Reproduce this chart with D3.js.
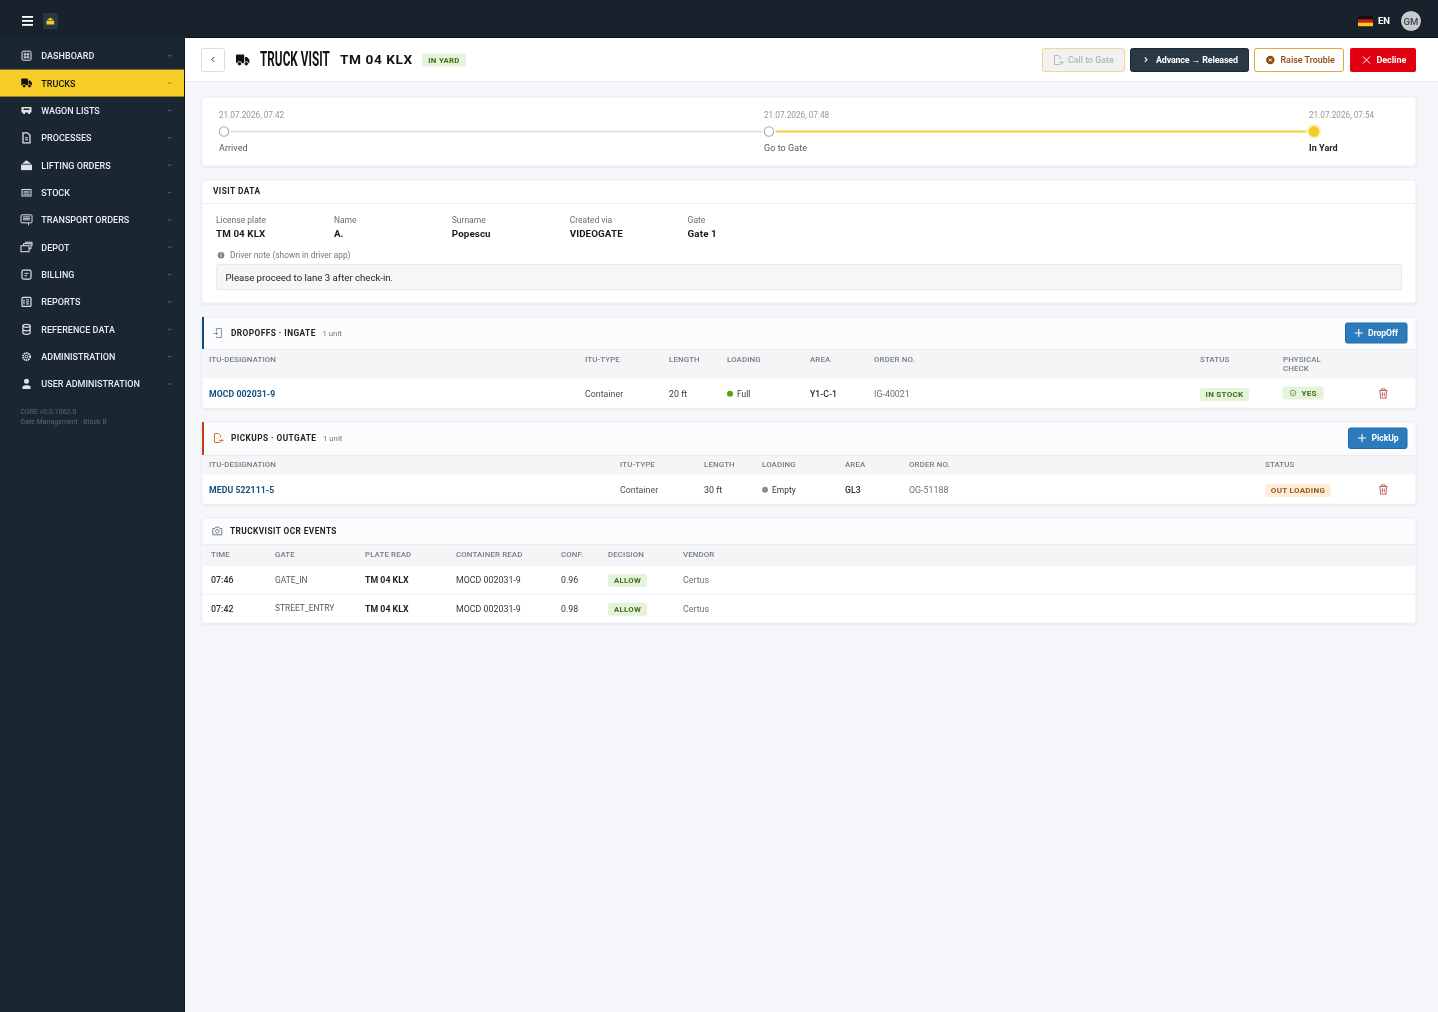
<!DOCTYPE html>
<html>
<head>
<meta charset="utf-8">
<title>Truck visit</title>
<script src="https://cdn.jsdelivr.net/npm/d3@7"></script>
<style>
html, body { margin: 0; padding: 0; background: #f4f6f9; overflow: hidden; }
svg { display: block; font-family: Roboto, sans-serif; filter: blur(0.25px); }
</style>
</head>
<body>
<div id="page"></div>
<script>
// data
const navItems = ['DASHBOARD', 'TRUCKS', 'WAGON LISTS', 'PROCESSES', 'LIFTING ORDERS', 'STOCK', 'TRANSPORT ORDERS', 'DEPOT', 'BILLING', 'REPORTS', 'REFERENCE DATA', 'ADMINISTRATION', 'USER ADMINISTRATION']
const activeNav = 'TRUCKS'
const versionLines = ['CORE v0.0.1062.0', 'Gate Management · Block B']

const stepTimes = ['21.07.2026, 07:42', '21.07.2026, 07:48', '21.07.2026, 07:54']
const stepLabels = ['Arrived', 'Go to Gate', 'In Yard']

const visitLabels = ['License plate', 'Name', 'Surname', 'Created via', 'Gate']
const visitValues = ['TM 04 KLX', 'A.', 'Popescu', 'VIDEOGATE', 'Gate 1']
const driverNote = 'Please proceed to lane 3 after check-in.'

const dropoffHeaders = ['ITU-DESIGNATION', 'ITU-TYPE', 'LENGTH', 'LOADING', 'AREA', 'ORDER NO.', 'STATUS', 'PHYSICAL|CHECK']
const dropoffRow = ['MOCD 002031-9', 'Container', '20 ft', 'Full', 'Y1-C-1', 'IG-40021', 'IN STOCK', 'YES']
const pickupHeaders = ['ITU-DESIGNATION', 'ITU-TYPE', 'LENGTH', 'LOADING', 'AREA', 'ORDER NO.', 'STATUS']
const pickupRow = ['MEDU 522111-5', 'Container', '30 ft', 'Empty', 'GL3', 'OG-51188', 'OUT LOADING']

const ocrHeaders = ['TIME', 'GATE', 'PLATE READ', 'CONTAINER READ', 'CONF.', 'DECISION', 'VENDOR']
const ocrTimes = ['07:46', '07:42']
const ocrGates = ['GATE_IN', 'STREET_ENTRY']
const ocrPlates = ['TM 04 KLX', 'TM 04 KLX']
const ocrContainers = ['MOCD 002031-9', 'MOCD 002031-9']
const ocrConf = [0.96, 0.98]
const ocrDecisions = ['ALLOW', 'ALLOW']
const ocrVendors = ['Certus', 'Certus']

const width = 1438, height = 1012
const navBg = '#1b2633', yellow = '#f5cd26'

const svg = d3.select('#page').append('svg').attr('width', width).attr('height', height)

const defs = svg.append('defs')
const shadow = defs.append('filter').attr('id', 'card').attr('x', '-2%').attr('y', '-10%').attr('width', '104%').attr('height', '125%')
shadow.append('feDropShadow').attr('dx', 0).attr('dy', 1).attr('stdDeviation', 1).attr('flood-color', '#000').attr('flood-opacity', 0.07)

// helpers
const text = (g, x, y, str, size, weight, fill, ls, anchor) => g.append('text')
	.attr('x', x).attr('y', y)
	.attr('dy', '0.35em')
	.attr('font-size', size)
	.attr('font-weight', weight || 400)
	.attr('fill', fill || '#222')
	.attr('letter-spacing', ls || 0)
	.attr('text-anchor', anchor || 'start')
	.text(str)

const box = (g, x, y, w, h, fill, r, stroke) => g.append('rect')
	.attr('x', x).attr('y', y).attr('width', w).attr('height', h)
	.attr('rx', r || 0)
	.attr('fill', fill)
	.attr('stroke', stroke || 'none')

const badge = (g, x, y, w, h, str, bg, fg, size) => {
	box(g, x, y, w, h, bg, 2)
	text(g, x + w / 2, y + h / 2, str, size || 8, 700, fg, 0.3, 'middle')
}

const card = (y, h) => {
	box(svg, 202, y, 1214, h, '#fff', 3, '#ebedf0').attr('filter', 'url(#card)')
}

// icons, drawn around their centre
const icon = {
	truck: (g, x, y, c, bg, s) => {
		const t = g.append('g').attr('transform', `translate(${x},${y}) scale(${s || 1})`).attr('fill', c)
		t.append('rect').attr('x', -5.2).attr('y', -4.5).attr('width', 6.6).attr('height', 7).attr('rx', 0.8)
		t.append('path').attr('d', 'M2-2.5h1.6l1.9,2.3v2.7h-3.5z')
		t.selectAll('circle').data([-2.4, 3]).enter().append('circle').attr('cx', d => d).attr('cy', 3).attr('r', 1.7).attr('stroke', bg).attr('stroke-width', 0.7)
	},
	grid: (g, x, y, c) => {
		const t = g.append('g').attr('transform', `translate(${x},${y})`)
		t.append('rect').attr('x', -4.5).attr('y', -4.5).attr('width', 9).attr('height', 9).attr('rx', 1).attr('fill', 'none').attr('stroke', c)
		t.append('path').attr('d', 'M-3-1.5h6M-3 1.5h6M-1.5-3v6M1.5-3v6').attr('stroke', c).attr('stroke-width', 1)
	},
	wagon: (g, x, y, c) => {
		const t = g.append('g').attr('transform', `translate(${x},${y})`)
		t.append('path').attr('d', 'M-5-3.5h10v5.5h-1.5v1.5h-2v-1.5h-3v1.5h-2v-1.5h-1.5z').attr('fill', c)
		t.append('rect').attr('x', -3).attr('y', -2).attr('width', 6).attr('height', 1.5).attr('fill', navBg)
	},
	doc: (g, x, y, c) => {
		const t = g.append('g').attr('transform', `translate(${x},${y})`)
		t.append('path').attr('d', 'M-3.5-5h4.5l2.5,2.5v7.5h-7z').attr('fill', 'none').attr('stroke', c).attr('stroke-width', 1.3)
		t.append('path').attr('d', 'M-1.5 0h3M-1.5 2h3').attr('stroke', c)
	},
	lift: (g, x, y, c, bg, s) => {
		const t = g.append('g').attr('transform', `translate(${x},${y}) scale(${s || 1})`).attr('fill', c)
		t.append('rect').attr('x', -5.5).attr('y', -0.5).attr('width', 11).attr('height', 5.5)
		t.append('path').attr('d', 'M-4.5-1.5L0-5l4.5,3.5z')
	},
	stock: (g, x, y, c) => {
		const t = g.append('g').attr('transform', `translate(${x},${y})`)
		t.append('rect').attr('x', -4.5).attr('y', -3).attr('width', 9).attr('height', 6.5).attr('fill', 'none').attr('stroke', c)
		t.append('path').attr('d', 'M-3-1.2h6M-3 0.3h6M-3 1.8h6').attr('stroke', c).attr('stroke-width', 0.8)
	},
	screen: (g, x, y, c) => {
		const t = g.append('g').attr('transform', `translate(${x},${y})`)
		t.append('rect').attr('x', -5.5).attr('y', -5).attr('width', 11).attr('height', 8).attr('rx', 1).attr('fill', 'none').attr('stroke', c)
		t.append('path').attr('d', 'M-3.5-3h7M-3.5-1.5h7M-3.5 0h7M2 3v2.5').attr('stroke', c).attr('stroke-width', 0.9)
	},
	depot: (g, x, y, c) => {
		const t = g.append('g').attr('transform', `translate(${x},${y})`).attr('fill', 'none').attr('stroke', c)
		t.append('rect').attr('x', -5.5).attr('y', -1.5).attr('width', 8).attr('height', 6)
		t.append('path').attr('d', 'M-3-1.5v-2h7.5v5h-2M-1-3.5v-1.5h6.5v4')
	},
	bill: (g, x, y, c) => {
		const t = g.append('g').attr('transform', `translate(${x},${y})`)
		t.append('rect').attr('x', -4.5).attr('y', -4.5).attr('width', 9).attr('height', 9).attr('rx', 1.5).attr('fill', 'none').attr('stroke', c).attr('stroke-width', 1.2)
		t.append('path').attr('d', 'M-2-1.2h4M-2 1.2h2.5').attr('stroke', c)
	},
	report: (g, x, y, c) => {
		const t = g.append('g').attr('transform', `translate(${x},${y})`)
		t.append('rect').attr('x', -4.5).attr('y', -4.5).attr('width', 9).attr('height', 9).attr('rx', 1).attr('fill', 'none').attr('stroke', c).attr('stroke-width', 1.2)
		t.append('path').attr('d', 'M-2.5-2.5v5M-0.5-2h3M-0.5 0h3M-0.5 2h3').attr('stroke', c)
	},
	db: (g, x, y, c) => {
		const t = g.append('g').attr('transform', `translate(${x},${y})`).attr('fill', 'none').attr('stroke', c).attr('stroke-width', 1.2)
		t.append('ellipse').attr('cy', -3.5).attr('rx', 3.6).attr('ry', 1.5)
		t.append('path').attr('d', 'M-3.6-3.5v7c0,2 7.2,2 7.2,0v-7M-3.6 0c0,2 7.2,2 7.2,0')
	},
	gear: (g, x, y, c) => {
		const t = g.append('g').attr('transform', `translate(${x},${y})`)
		t.append('circle').attr('r', 3.6).attr('fill', 'none').attr('stroke', c).attr('stroke-width', 1.8).attr('stroke-dasharray', '1.6 0.7')
		t.append('circle').attr('r', 1.4).attr('fill', 'none').attr('stroke', c)
	},
	user: (g, x, y, c) => {
		const t = g.append('g').attr('transform', `translate(${x},${y})`).attr('fill', c)
		t.append('circle').attr('cy', -2.8).attr('r', 2.5)
		t.append('path').attr('d', 'M-4 5v-2.2c0-2 8-2 8 0v2.2z')
	},
	file: (g, x, y, c) => {
		const t = g.append('g').attr('transform', `translate(${x},${y})`).attr('fill', 'none').attr('stroke', c).attr('stroke-width', 1)
		t.append('path').attr('d', 'M2.5 4.5h-6v-9h4l2,2v2M1 2.5h4M3.5 1l1.5,1.5l-1.5,1.5')
	},
	ingate: (g, x, y, c) => {
		const t = g.append('g').attr('transform', `translate(${x},${y})`).attr('fill', 'none').attr('stroke', c).attr('stroke-width', 0.9)
		t.append('path').attr('d', 'M-1.5-1.5v-3h5v9h-5v-1M-4.5 0.5h4M-2 -1l1.5,1.5l-1.5,1.5')
	},
	camera: (g, x, y, c) => {
		const t = g.append('g').attr('transform', `translate(${x},${y})`).attr('fill', 'none').attr('stroke', c).attr('stroke-width', 0.9)
		t.append('path').attr('d', 'M-4.5-2.5h2l1-1.3h3l1,1.3h2v6.3h-9z')
		t.append('circle').attr('cy', 0.3).attr('r', 1.8)
	},
	trash: (g, x, y, c) => {
		const t = g.append('g').attr('transform', `translate(${x},${y}) scale(1.1)`).attr('fill', 'none').attr('stroke', c).attr('stroke-width', 0.9)
		t.append('path').attr('d', 'M-3.8-2.8h7.6M-1.5-2.8v-1.4h3v1.4M-3-2.8l0.5,7h5l0.5-7M-0.9-1v3.5M0.9-1v3.5')
	}
}

const navIcons = ['grid', 'truck', 'wagon', 'doc', 'lift', 'stock', 'screen', 'depot', 'bill', 'report', 'db', 'gear', 'user']

// chrome
box(svg, 0, 0, width, height, '#f4f6f9')
box(svg, 0, 0, width, 38, '#18222d')
box(svg, 0, 38, 184, height - 38, navBg)
box(svg, 184, 38, 1, height - 38, '#111923')
box(svg, 184, 37, width - 184, 1, '#0e151c')
box(svg, 185, 38, width - 185, 43, '#fff')
box(svg, 185, 81, width - 185, 1, '#ebedf0')

// burger
svg.selectAll('.burger').data([17, 21, 25]).enter().append('rect')
	.attr('class', 'burger').attr('x', 22).attr('y', d => d - 1).attr('width', 11).attr('height', 1.8).attr('fill', '#fff')
box(svg, 43, 13, 15, 16, '#283644', 1)
icon.lift(svg, 50.3, 21, yellow, null, 0.7)

// language + avatar
const flagY = d3.scaleBand().domain(['#111', '#d8141a', '#f6ce19']).range([16, 26])
flagY.domain().forEach(c => box(svg, 1358, flagY(c), 15, flagY.bandwidth() + 0.2, c))
text(svg, 1378, 21, 'EN', 9.5, 700, '#fff')
svg.append('circle').attr('cx', 1411).attr('cy', 21).attr('r', 10.5).attr('fill', '#c6cacd').attr('stroke', '#10171e')
text(svg, 1411, 21.3, 'GM', 9.5, 500, '#3c444c', 0, 'middle')

// sidebar
const navY = d3.scalePoint().domain(navItems).range([55.7, 384])
const nav = svg.append('g')
nav.selectAll('g').data(navItems).enter().append('g').each(function (d, i) {
	const g = d3.select(this), y = navY(d), on = d === activeNav
	if (on) box(g, 0, y - 13.5, 184, 27, yellow)
	icon[navIcons[i]](g, 26.5, y, on ? '#111' : '#dfe3e8', on ? yellow : navBg)
	text(g, 41.3, y + 0.3, d, 9, 500, on ? '#111' : '#e8ebef', 0.02)
	g.append('path').attr('d', `M168 ${y - 0.5}l1.7 1l1.7-1`).attr('fill', 'none').attr('stroke', on ? '#8a7420' : '#66727e').attr('stroke-width', 0.9)
})
versionLines.forEach((d, i) => text(svg, 20.5, 411.5 + i * 10.5, d, 6.8, 400, '#5b6875', 0.1))

// header bar
box(svg, 201.5, 48.5, 23, 23, '#fff', 2, '#d9dce0')
svg.append('path').attr('d', 'M214.2 57l-2.4 2.4l2.4 2.4').attr('fill', 'none').attr('stroke', '#333').attr('stroke-width', 1)
icon.truck(svg, 242.5, 60, '#111', '#fff', 1.25)
text(svg, 0, 0, 'TRUCK VISIT', 19.5, 700, '#111', 0.1).attr('transform', 'translate(260,58.8) scale(0.6,1)')
text(svg, 340, 59.5, 'TM 04 KLX', 13.7, 700, '#141414', 0.55)
badge(svg, 422, 53.5, 44, 13, 'IN YARD', '#e6f3dc', '#3c6e12', 7.8)

// buttons
box(svg, 1042.5, 48.5, 82, 23, '#f1f1f1', 2, '#f0d98a')
icon.file(svg, 1058, 60, '#b8b8b8')
text(svg, 1068, 60, 'Call to Gate', 8.8, 500, '#b4b4b4', 0.02)
box(svg, 1130.5, 48.5, 118, 23, '#2b3945', 2, '#1d2833')
svg.append('path').attr('d', 'M1144.8 57.5l2.2 2.2l-2.2 2.2').attr('fill', 'none').attr('stroke', '#fff').attr('stroke-width', 1.1)
text(svg, 1156, 60, 'Advance → Released', 8.9, 700, '#fff', -0.15)
box(svg, 1254.5, 48.5, 89, 23, '#fff', 2, '#e3a93f')
svg.append('circle').attr('cx', 1270.3).attr('cy', 60).attr('r', 4.2).attr('fill', '#8c4a10')
svg.append('path').attr('d', 'M1268.8 58.5l3 3M1271.8 58.5l-3 3').attr('stroke', '#fff').attr('stroke-width', 1)
text(svg, 1280.5, 60, 'Raise Trouble', 8.9, 500, '#8c4a10', 0.02)
box(svg, 1350, 48, 66, 24, '#e0000f', 2)
svg.append('path').attr('d', 'M1363 56.5l7 7M1370 56.5l-7 7').attr('stroke', '#fff').attr('stroke-width', 1)
text(svg, 1376.5, 60, 'Decline', 9, 700, '#fff', -0.05)

// timeline
card(97, 69)
const stepX = d3.scalePoint().domain(stepLabels).range([224, 1314])
const tl = svg.append('g')
tl.append('line').attr('x1', stepX(stepLabels[0]) + 7).attr('x2', stepX(stepLabels[1]) - 7).attr('y1', 131.5).attr('y2', 131.5).attr('stroke', '#d9dcdf').attr('stroke-width', 1.3)
tl.append('line').attr('x1', stepX(stepLabels[1]) + 7).attr('x2', stepX(stepLabels[2]) - 6).attr('y1', 131.5).attr('y2', 131.5).attr('stroke', '#f3cf37').attr('stroke-width', 1.8)
stepLabels.forEach((d, i) => {
	const x = stepX(d), last = i === stepLabels.length - 1
	text(tl, x - 5, 115.5, stepTimes[i], 8.2, 400, '#92989e')
	if (last) {
		tl.append('circle').attr('cx', x).attr('cy', 131.5).attr('r', 7.5).attr('fill', '#fdf3cc')
		tl.append('circle').attr('cx', x).attr('cy', 131.5).attr('r', 5.4).attr('fill', '#f5cb25')
	} else {
		tl.append('circle').attr('cx', x).attr('cy', 131.5).attr('r', 4.7).attr('fill', '#fff').attr('stroke', '#a9afb5').attr('stroke-width', 1.1)
	}
	text(tl, x - 5, 147.8, d, 9, last ? 700 : 400, last ? '#222' : '#55595f', 0.05)
})

// visit data
card(180, 123)
box(svg, 203, 203, 1212, 1, '#eceef0')
text(svg, 213, 191.3, 'VISIT DATA', 8.3, 700, '#222', 0.45)
const visitX = d3.scalePoint().domain(visitLabels).range([216, 687.6])
visitLabels.forEach((d, i) => {
	text(svg, visitX(d), 220.3, d, 8.5, 400, '#6a6e73')
	text(svg, visitX(d), 233.3, visitValues[i], 9.8, 700, '#1b1b1b', 0.1)
})
svg.append('circle').attr('cx', 221).attr('cy', 255.3).attr('r', 3.3).attr('fill', '#7d848b')
svg.append('path').attr('d', 'M221 254.5v2.6M221 253v0.8').attr('stroke', '#fff').attr('stroke-width', 0.8)
text(svg, 230, 255.2, 'Driver note (shown in driver app)', 8.4, 400, '#74787d')
box(svg, 216.5, 264.5, 1185, 25, '#f6f6f6', 2, '#e8e9ea')
text(svg, 225.5, 277.2, driverNote, 9.6, 400, '#1e1e1e')

// tables
const headerBand = (g, y0, y1, thEnd, accent) => {
	box(g, 203, y0 + 1, 1212, y1 - y0 - 1, '#fbfcfd')
	box(g, 203, y1, 1212, 1, '#e9ebee')
	box(g, 203, y1 + 1, 1212, thEnd - y1 - 1, '#f4f5f6')
	if (accent) box(g, 202, y0, 2, y1 - y0, accent)
}

const thead = (g, scale, headers, y) => {
	headers.forEach(d => {
		d.split('|').forEach((l, j) => text(g, scale(d), y + j * 9.2, l, 7.9, 500, '#777c83', 0.12))
	})
}

const dropoffX = d3.scaleOrdinal().domain(dropoffHeaders).range([209, 585, 669, 727, 810, 874, 1200, 1283])
const pickupX = d3.scaleOrdinal().domain(pickupHeaders).range([209, 620, 704, 762, 845, 909, 1265])

const unitRow = (g, scale, headers, row, y, dot) => {
	text(g, scale(headers[0]), y, row[0], 8.7, 700, '#134f7c', 0.08)
	text(g, scale(headers[1]), y, row[1], 8.8, 400, '#4a4e53', 0.03)
	text(g, scale(headers[2]), y, row[2], 8.8, 400, '#33373b', 0.03)
	g.append('circle').attr('cx', scale(headers[3]) + 3).attr('cy', y - 0.3).attr('r', 3).attr('fill', dot)
	text(g, scale(headers[3]) + 10, y - 0.3, row[3], 8.4, 400, '#33373b', 0.03)
	text(g, scale(headers[4]), y, row[4], 8.7, 500, '#2a2d31', 0.03)
	text(g, scale(headers[5]), y, row[5], 8.8, 400, '#6a6e73', 0.03)
}

// dropoffs
card(317, 91)
const drop = svg.append('g')
headerBand(drop, 317, 349, 378.5, '#0d4b86')
box(drop, 203, 378.5, 1212, 29, '#fff')
icon.ingate(drop, 218, 333, '#7c8b99')
text(drop, 231, 333, 'DROPOFFS · INGATE', 8.3, 700, '#222', 0.45)
text(drop, 322.5, 333.3, '1 unit', 7.8, 400, '#777')
box(drop, 1345.5, 323, 61.5, 20, '#2b7bbd', 2, '#1f6aa8')
drop.append('path').attr('d', 'M1354.8 333h8M1358.8 329v8').attr('stroke', '#fff').attr('stroke-width', 1.1)
text(drop, 1368, 333, 'DropOff', 8.6, 700, '#fff', -0.05)
thead(drop, dropoffX, dropoffHeaders, 359)
unitRow(drop, dropoffX, dropoffHeaders, dropoffRow, 394, '#55a315')
badge(drop, 1200, 388, 49, 13, dropoffRow[6], '#e6f3dc', '#3c6e12', 8)
box(drop, 1282.5, 386.5, 41, 13, '#e6f3dc', 2)
drop.append('circle').attr('cx', 1293).attr('cy', 393).attr('r', 2.8).attr('fill', 'none').attr('stroke', '#587a3e').attr('stroke-width', 0.7)
drop.append('path').attr('d', 'M1291.8 393l0.9 0.9l1.5-1.5').attr('fill', 'none').attr('stroke', '#587a3e').attr('stroke-width', 0.7)
text(drop, 1301.5, 393, dropoffRow[7], 8, 700, '#3c6e12', 0.3)
icon.trash(drop, 1383.3, 393.5, '#b4635c')

// pickups
card(422, 82)
const pick = svg.append('g')
headerBand(pick, 422, 455, 475, '#c8401a')
box(pick, 203, 475, 1212, 28.5, '#fff')
icon.file(pick, 218, 438, '#d8743c')
text(pick, 231, 438, 'PICKUPS · OUTGATE', 8.3, 700, '#222', 0.45)
text(pick, 323, 438.3, '1 unit', 7.8, 400, '#777')
box(pick, 1348.5, 428, 58.5, 20.5, '#2b7bbd', 2, '#1f6aa8')
pick.append('path').attr('d', 'M1358 438h8M1362 434v8').attr('stroke', '#fff').attr('stroke-width', 1.1)
text(pick, 1371.5, 438, 'PickUp', 8.6, 700, '#fff', -0.05)
thead(pick, pickupX, pickupHeaders, 464.5)
unitRow(pick, pickupX, pickupHeaders, pickupRow, 490, '#8a8f94')
badge(pick, 1265.5, 484, 65, 13, pickupRow[6], '#fdecd9', '#9a5a14', 8)
icon.trash(pick, 1383.3, 489.5, '#b4635c')

// ocr events
card(518, 105)
const ocr = svg.append('g')
headerBand(ocr, 518, 544, 566)
box(ocr, 203, 566, 1212, 56.5, '#fff')
box(ocr, 203, 593.5, 1212, 1, '#eeeff1')
icon.camera(ocr, 217.3, 531, '#6a7078')
text(ocr, 230, 531, 'TRUCKVISIT OCR EVENTS', 8.3, 700, '#222', 0.42)
const ocrX = d3.scaleOrdinal().domain(ocrHeaders).range([211, 275, 365, 456, 561, 608, 683])
ocrHeaders.forEach(d => text(ocr, ocrX(d), 554.3, d, 7.9, 500, '#777c83', 0.12))
const ocrY = d3.scalePoint().domain(ocrTimes).range([580, 608.7])
ocrTimes.forEach((d, i) => {
	const y = ocrY(d), c = ocrHeaders
	text(ocr, ocrX(c[0]), y, d, 8.8, 500, '#2a2d31', 0.03)
	text(ocr, ocrX(c[1]), y - 0.3, ocrGates[i], 8.4, 400, '#55595f', 0.02)
	text(ocr, ocrX(c[2]), y, ocrPlates[i], 8.8, 700, '#1e1e1e', 0)
	text(ocr, ocrX(c[3]), y, ocrContainers[i], 8.8, 400, '#33373b', 0.03)
	text(ocr, ocrX(c[4]), y, d3.format('.2f')(ocrConf[i]), 8.8, 400, '#33373b', 0.03)
	badge(ocr, ocrX(c[5]), y - 6, 39, 13, ocrDecisions[i], '#e6f3dc', '#3c6e12', 7.8)
	text(ocr, ocrX(c[6]), y, ocrVendors[i], 8.8, 400, '#6a6e73', 0.03)
})
</script>
</body>
</html>
